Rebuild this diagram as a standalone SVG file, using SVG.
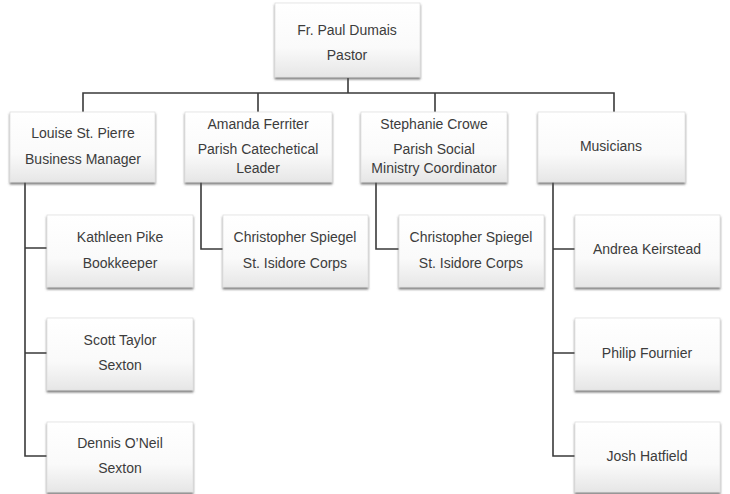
<svg xmlns="http://www.w3.org/2000/svg" width="730" height="494" viewBox="0 0 730 494">
<style>
.box{fill:url(#g);stroke:#e0e0e0;stroke-width:0.8;filter:url(#sh)}
.t{font-family:"Liberation Sans",Arial,sans-serif;font-size:14px;fill:#3c3c3c;text-anchor:middle}
.c{fill:none;stroke:#3a3a3a;stroke-width:1.6}
</style>
<defs>
<linearGradient id="g" x1="0" y1="0" x2="0" y2="1">
<stop offset="0" stop-color="#ffffff"/>
<stop offset="0.6" stop-color="#fafafa"/>
<stop offset="1" stop-color="#e6e6e6"/>
</linearGradient>
<filter id="sh" x="-10%" y="-10%" width="120%" height="130%">
<feDropShadow dx="0" dy="2" stdDeviation="1" flood-color="#555" flood-opacity="0.8"/>
</filter>
</defs>
<g id="connectors">
<path class="c" d="M348 78V93M83 112V93H614V112M258 93V112M435 93V112"/>
<path class="c" d="M25 182V456H47M25 248H47M25 353H47"/>
<path class="c" d="M201 182V249H223"/>
<path class="c" d="M376 182V249H399"/>
<path class="c" d="M553 182V456H575M553 249H575M553 353H575"/>
</g>
<g id="pastor"><rect class="box" x="275" y="3" width="145" height="74"/><text class="t" x="347" y="35">Fr. Paul Dumais</text><text class="t" x="347" y="60">Pastor</text></g>
<g id="louise"><rect class="box" x="10" y="112" width="145" height="70"/><text class="t" x="83" y="138">Louise St. Pierre</text><text class="t" x="83" y="164">Business Manager</text></g>
<g id="amanda"><rect class="box" x="185" y="112" width="147" height="70"/><text class="t" x="258" y="129">Amanda Ferriter</text><text class="t" x="258" y="154">Parish Catechetical</text><text class="t" x="258" y="173">Leader</text></g>
<g id="stephanie"><rect class="box" x="361" y="112" width="146" height="70"/><text class="t" x="434" y="129">Stephanie Crowe</text><text class="t" x="434" y="154">Parish Social</text><text class="t" x="434" y="173">Ministry Coordinator</text></g>
<g id="musicians"><rect class="box" x="538" y="112" width="147" height="70"/><text class="t" x="611" y="151">Musicians</text></g>
<g id="kathleen"><rect class="box" x="47" y="215" width="146" height="72"/><text class="t" x="120" y="242">Kathleen Pike</text><text class="t" x="120" y="268">Bookkeeper</text></g>
<g id="scott"><rect class="box" x="47" y="318" width="146" height="72"/><text class="t" x="120" y="345">Scott Taylor</text><text class="t" x="120" y="370">Sexton</text></g>
<g id="dennis"><rect class="box" x="47" y="422" width="146" height="70"/><text class="t" x="120" y="448">Dennis O’Neil</text><text class="t" x="120" y="473">Sexton</text></g>
<g id="christopher1"><rect class="box" x="223" y="215" width="145" height="72"/><text class="t" x="295" y="242">Christopher Spiegel</text><text class="t" x="295" y="268">St. Isidore Corps</text></g>
<g id="christopher2"><rect class="box" x="399" y="215" width="145" height="72"/><text class="t" x="471" y="242">Christopher Spiegel</text><text class="t" x="471" y="268">St. Isidore Corps</text></g>
<g id="andrea"><rect class="box" x="575" y="215" width="145" height="72"/><text class="t" x="647" y="254">Andrea Keirstead</text></g>
<g id="philip"><rect class="box" x="575" y="318" width="145" height="72"/><text class="t" x="647" y="358">Philip Fournier</text></g>
<g id="josh"><rect class="box" x="575" y="422" width="145" height="70"/><text class="t" x="647" y="461">Josh Hatfield</text></g>
</svg>
